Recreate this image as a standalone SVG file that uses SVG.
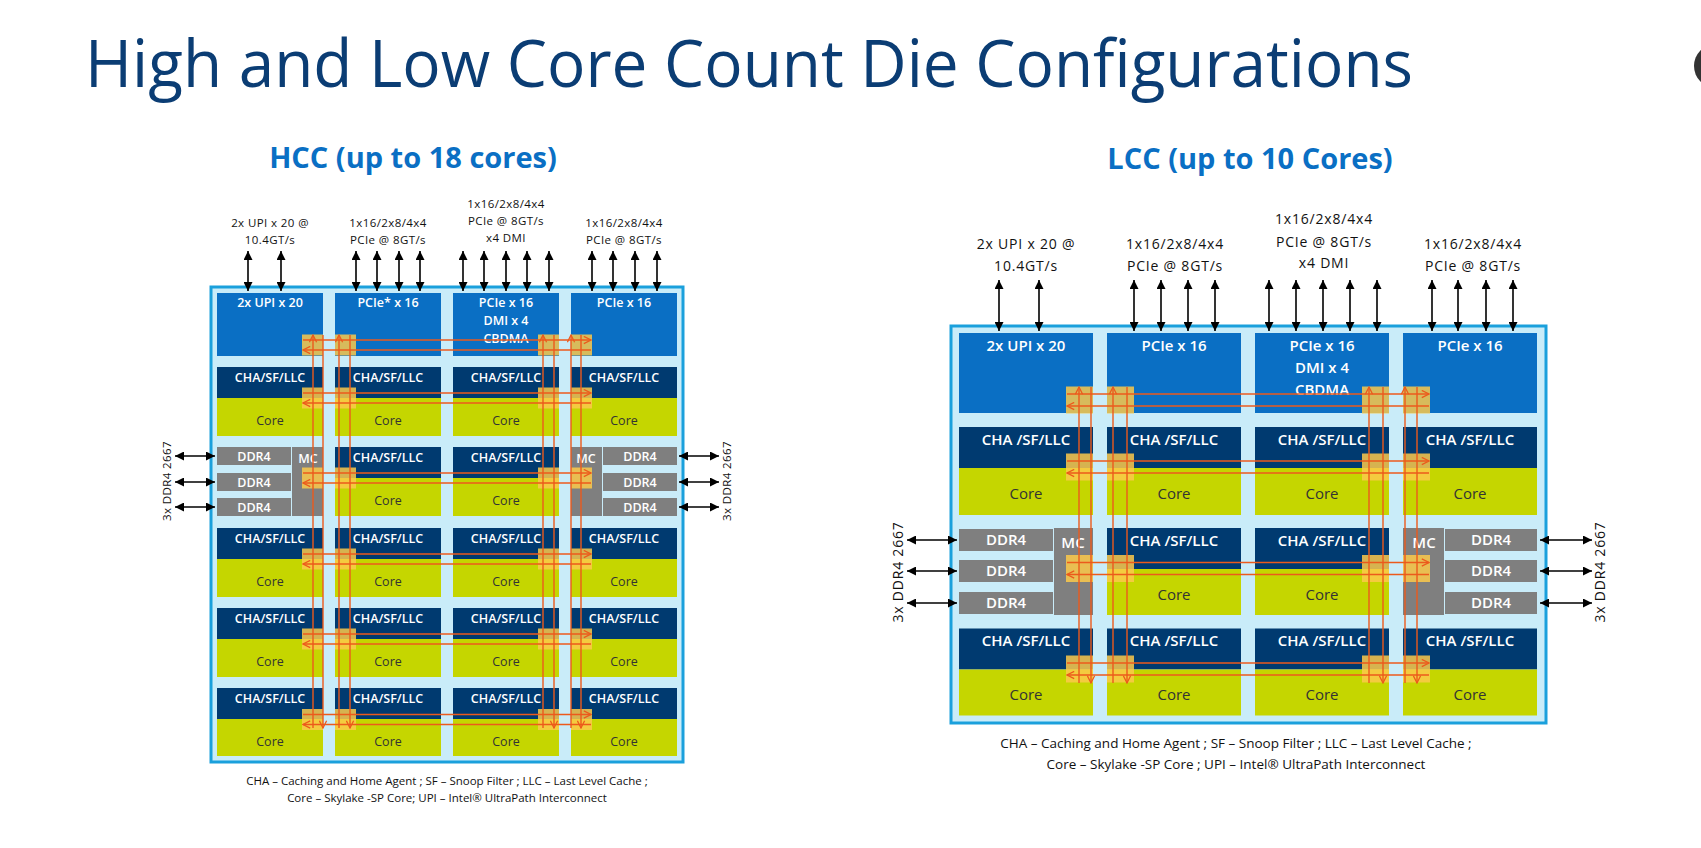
<svg xmlns="http://www.w3.org/2000/svg" width="1701" height="848" viewBox="0 0 1701 848">
<style>
text{font-family:"Open Sans","Noto Sans","Liberation Sans",sans-serif}
.bg{fill:#c9ecf9;stroke:#1aa0dc;stroke-width:3}
.io{fill:#0a6fc4}
.cha{fill:#003a70}
.core{fill:#c5d600}
.ddr{fill:#7f7f7f}
.stop{fill:#fbc94a;opacity:.85}
.ring{stroke:#ec5a1c;stroke-width:1.4;fill:none}
.io-h{stroke:#000;stroke-width:1.6;marker-start:url(#ah);marker-end:url(#ah)}
.w{fill:#fff;font-weight:600;text-anchor:middle}
.d{fill:#333;text-anchor:middle}
.s{font-size:12.5px}
.l{font-size:15px}
.lab{fill:#111;text-anchor:middle;font-size:11.5px;letter-spacing:.4px}
.labl{fill:#111;text-anchor:middle;font-size:14px;letter-spacing:.8px}
.r{marker-end:url(#oa)}
</style>
<defs>
<marker id="ah" viewBox="0 0 10 10" refX="10" refY="5" markerWidth="9" markerHeight="9" markerUnits="userSpaceOnUse" orient="auto-start-reverse"><path d="M0,0 L10,5 L0,10 z" fill="#000"/></marker>
<marker id="oa" viewBox="0 0 10 10" refX="9" refY="5" markerWidth="9" markerHeight="9" markerUnits="userSpaceOnUse" orient="auto"><path d="M1,1 L9,5 L1,9" fill="none" stroke="#ec5a1c" stroke-width="1.4"/></marker>
</defs>
<rect width="1701" height="848" fill="#fff"/>
<text x="85" y="87" font-size="65" fill="#0b3d74" textLength="1328" lengthAdjust="spacingAndGlyphs">High and Low Core Count Die Configurations</text>
<circle cx="1716" cy="66" r="22" fill="#333"/>
<text x="413" y="168" font-size="29" font-weight="700" fill="#0a6fc4" text-anchor="middle">HCC (up to 18 cores)</text>
<text x="1250" y="169" font-size="29" font-weight="700" fill="#0a6fc4" text-anchor="middle">LCC (up to 10 Cores)</text>

<!-- ================= HCC ================= -->
<g id="hcc-die"><rect class="bg" x="211" y="287" width="472" height="475"/></g>
<g id="hcc-upi"><rect class="io" x="217" y="293" width="106" height="63"/><text class="w s" x="270" y="307">2x UPI x 20</text></g>
<g id="hcc-pcie1"><rect class="io" x="335" y="293" width="106" height="63"/><text class="w s" x="388" y="307">PCIe* x 16</text></g>
<g id="hcc-pcie2"><rect class="io" x="453" y="293" width="106" height="63"/><text class="w s" x="506" y="307">PCIe x 16</text><text class="w s" x="506" y="325">DMI x 4</text><text class="w s" x="506" y="343">CBDMA</text></g>
<g id="hcc-pcie3"><rect class="io" x="571" y="293" width="106" height="63"/><text class="w s" x="624" y="307">PCIe x 16</text></g>

<g id="hcc-r1c1"><rect class="cha" x="217" y="367" width="106" height="31"/><rect class="core" x="217" y="398" width="106" height="38"/><text class="w s" x="270" y="382">CHA/SF/LLC</text><text class="d s" x="270" y="425">Core</text></g>
<g id="hcc-r1c2"><rect class="cha" x="335" y="367" width="106" height="31"/><rect class="core" x="335" y="398" width="106" height="38"/><text class="w s" x="388" y="382">CHA/SF/LLC</text><text class="d s" x="388" y="425">Core</text></g>
<g id="hcc-r1c3"><rect class="cha" x="453" y="367" width="106" height="31"/><rect class="core" x="453" y="398" width="106" height="38"/><text class="w s" x="506" y="382">CHA/SF/LLC</text><text class="d s" x="506" y="425">Core</text></g>
<g id="hcc-r1c4"><rect class="cha" x="571" y="367" width="106" height="31"/><rect class="core" x="571" y="398" width="106" height="38"/><text class="w s" x="624" y="382">CHA/SF/LLC</text><text class="d s" x="624" y="425">Core</text></g>

<g id="hcc-mc-left"><rect class="ddr" x="217" y="447" width="74" height="18"/><rect class="ddr" x="217" y="473" width="74" height="18"/><rect class="ddr" x="217" y="498" width="74" height="18"/><rect class="ddr" x="292" y="447" width="31" height="69"/><text class="w s" x="254" y="461">DDR4</text><text class="w s" x="254" y="487">DDR4</text><text class="w s" x="254" y="512">DDR4</text><text class="w s" x="308" y="463">MC</text></g>
<g id="hcc-r2c2"><rect class="cha" x="335" y="447" width="106" height="31"/><rect class="core" x="335" y="478" width="106" height="38"/><text class="w s" x="388" y="462">CHA/SF/LLC</text><text class="d s" x="388" y="505">Core</text></g>
<g id="hcc-r2c3"><rect class="cha" x="453" y="447" width="106" height="31"/><rect class="core" x="453" y="478" width="106" height="38"/><text class="w s" x="506" y="462">CHA/SF/LLC</text><text class="d s" x="506" y="505">Core</text></g>
<g id="hcc-mc-right"><rect class="ddr" x="603" y="447" width="74" height="18"/><rect class="ddr" x="603" y="473" width="74" height="18"/><rect class="ddr" x="603" y="498" width="74" height="18"/><rect class="ddr" x="571" y="447" width="31" height="69"/><text class="w s" x="640" y="461">DDR4</text><text class="w s" x="640" y="487">DDR4</text><text class="w s" x="640" y="512">DDR4</text><text class="w s" x="586" y="463">MC</text></g>

<g id="hcc-r3c1"><rect class="cha" x="217" y="528" width="106" height="31"/><rect class="core" x="217" y="559" width="106" height="38"/><text class="w s" x="270" y="543">CHA/SF/LLC</text><text class="d s" x="270" y="586">Core</text></g>
<g id="hcc-r3c2"><rect class="cha" x="335" y="528" width="106" height="31"/><rect class="core" x="335" y="559" width="106" height="38"/><text class="w s" x="388" y="543">CHA/SF/LLC</text><text class="d s" x="388" y="586">Core</text></g>
<g id="hcc-r3c3"><rect class="cha" x="453" y="528" width="106" height="31"/><rect class="core" x="453" y="559" width="106" height="38"/><text class="w s" x="506" y="543">CHA/SF/LLC</text><text class="d s" x="506" y="586">Core</text></g>
<g id="hcc-r3c4"><rect class="cha" x="571" y="528" width="106" height="31"/><rect class="core" x="571" y="559" width="106" height="38"/><text class="w s" x="624" y="543">CHA/SF/LLC</text><text class="d s" x="624" y="586">Core</text></g>

<g id="hcc-r4c1"><rect class="cha" x="217" y="608" width="106" height="31"/><rect class="core" x="217" y="639" width="106" height="38"/><text class="w s" x="270" y="623">CHA/SF/LLC</text><text class="d s" x="270" y="666">Core</text></g>
<g id="hcc-r4c2"><rect class="cha" x="335" y="608" width="106" height="31"/><rect class="core" x="335" y="639" width="106" height="38"/><text class="w s" x="388" y="623">CHA/SF/LLC</text><text class="d s" x="388" y="666">Core</text></g>
<g id="hcc-r4c3"><rect class="cha" x="453" y="608" width="106" height="31"/><rect class="core" x="453" y="639" width="106" height="38"/><text class="w s" x="506" y="623">CHA/SF/LLC</text><text class="d s" x="506" y="666">Core</text></g>
<g id="hcc-r4c4"><rect class="cha" x="571" y="608" width="106" height="31"/><rect class="core" x="571" y="639" width="106" height="38"/><text class="w s" x="624" y="623">CHA/SF/LLC</text><text class="d s" x="624" y="666">Core</text></g>

<g id="hcc-r5c1"><rect class="cha" x="217" y="688" width="106" height="31"/><rect class="core" x="217" y="719" width="106" height="37"/><text class="w s" x="270" y="703">CHA/SF/LLC</text><text class="d s" x="270" y="746">Core</text></g>
<g id="hcc-r5c2"><rect class="cha" x="335" y="688" width="106" height="31"/><rect class="core" x="335" y="719" width="106" height="37"/><text class="w s" x="388" y="703">CHA/SF/LLC</text><text class="d s" x="388" y="746">Core</text></g>
<g id="hcc-r5c3"><rect class="cha" x="453" y="688" width="106" height="31"/><rect class="core" x="453" y="719" width="106" height="37"/><text class="w s" x="506" y="703">CHA/SF/LLC</text><text class="d s" x="506" y="746">Core</text></g>
<g id="hcc-r5c4"><rect class="cha" x="571" y="688" width="106" height="31"/><rect class="core" x="571" y="719" width="106" height="37"/><text class="w s" x="624" y="703">CHA/SF/LLC</text><text class="d s" x="624" y="746">Core</text></g>

<g id="hcc-stops">
<rect class="stop" x="302" y="334.5" width="21" height="21"/><rect class="stop" x="335" y="334.5" width="21" height="21"/><rect class="stop" x="538" y="334.5" width="21" height="21"/><rect class="stop" x="571" y="334.5" width="21" height="21"/>
<rect class="stop" x="302" y="387.5" width="21" height="21"/><rect class="stop" x="335" y="387.5" width="21" height="21"/><rect class="stop" x="538" y="387.5" width="21" height="21"/><rect class="stop" x="571" y="387.5" width="21" height="21"/>
<rect class="stop" x="302" y="467.5" width="21" height="21"/><rect class="stop" x="335" y="467.5" width="21" height="21"/><rect class="stop" x="538" y="467.5" width="21" height="21"/><rect class="stop" x="571" y="467.5" width="21" height="21"/>
<rect class="stop" x="302" y="548.5" width="21" height="21"/><rect class="stop" x="335" y="548.5" width="21" height="21"/><rect class="stop" x="538" y="548.5" width="21" height="21"/><rect class="stop" x="571" y="548.5" width="21" height="21"/>
<rect class="stop" x="302" y="628.5" width="21" height="21"/><rect class="stop" x="335" y="628.5" width="21" height="21"/><rect class="stop" x="538" y="628.5" width="21" height="21"/><rect class="stop" x="571" y="628.5" width="21" height="21"/>
<rect class="stop" x="302" y="709" width="21" height="21"/><rect class="stop" x="335" y="709" width="21" height="21"/><rect class="stop" x="538" y="709" width="21" height="21"/><rect class="stop" x="571" y="709" width="21" height="21"/>
</g>

<!-- ================= LCC ================= -->
<g id="lcc-die"><rect class="bg" x="951" y="326" width="595" height="397"/></g>
<g id="lcc-upi"><rect class="io" x="959" y="333" width="134" height="80"/><text class="w l" x="1026" y="351">2x UPI x 20</text></g>
<g id="lcc-pcie1"><rect class="io" x="1107" y="333" width="134" height="80"/><text class="w l" x="1174" y="351">PCIe x 16</text></g>
<g id="lcc-pcie2"><rect class="io" x="1255" y="333" width="134" height="80"/><text class="w l" x="1322" y="351">PCIe x 16</text><text class="w l" x="1322" y="373">DMI x 4</text><text class="w l" x="1322" y="395">CBDMA</text></g>
<g id="lcc-pcie3"><rect class="io" x="1403" y="333" width="134" height="80"/><text class="w l" x="1470" y="351">PCIe x 16</text></g>

<g id="lcc-r1c1"><rect class="cha" x="959" y="427" width="134" height="41"/><rect class="core" x="959" y="468" width="134" height="47"/><text class="w l" x="1026" y="445">CHA /SF/LLC</text><text class="d l" x="1026" y="499">Core</text></g>
<g id="lcc-r1c2"><rect class="cha" x="1107" y="427" width="134" height="41"/><rect class="core" x="1107" y="468" width="134" height="47"/><text class="w l" x="1174" y="445">CHA /SF/LLC</text><text class="d l" x="1174" y="499">Core</text></g>
<g id="lcc-r1c3"><rect class="cha" x="1255" y="427" width="134" height="41"/><rect class="core" x="1255" y="468" width="134" height="47"/><text class="w l" x="1322" y="445">CHA /SF/LLC</text><text class="d l" x="1322" y="499">Core</text></g>
<g id="lcc-r1c4"><rect class="cha" x="1403" y="427" width="134" height="41"/><rect class="core" x="1403" y="468" width="134" height="47"/><text class="w l" x="1470" y="445">CHA /SF/LLC</text><text class="d l" x="1470" y="499">Core</text></g>

<g id="lcc-mc-left"><rect class="ddr" x="959" y="529" width="94" height="22"/><rect class="ddr" x="959" y="560" width="94" height="22"/><rect class="ddr" x="959" y="592" width="94" height="22"/><rect class="ddr" x="1054" y="528" width="39" height="87"/><text class="w l" x="1006" y="545">DDR4</text><text class="w l" x="1006" y="576">DDR4</text><text class="w l" x="1006" y="608">DDR4</text><text class="w l" x="1073" y="548">MC</text></g>
<g id="lcc-r2c2"><rect class="cha" x="1107" y="528" width="134" height="41"/><rect class="core" x="1107" y="569" width="134" height="46"/><text class="w l" x="1174" y="546">CHA /SF/LLC</text><text class="d l" x="1174" y="600">Core</text></g>
<g id="lcc-r2c3"><rect class="cha" x="1255" y="528" width="134" height="41"/><rect class="core" x="1255" y="569" width="134" height="46"/><text class="w l" x="1322" y="546">CHA /SF/LLC</text><text class="d l" x="1322" y="600">Core</text></g>
<g id="lcc-mc-right"><rect class="ddr" x="1445" y="529" width="92" height="22"/><rect class="ddr" x="1445" y="560" width="92" height="22"/><rect class="ddr" x="1445" y="592" width="92" height="22"/><rect class="ddr" x="1403" y="528" width="41" height="87"/><text class="w l" x="1491" y="545">DDR4</text><text class="w l" x="1491" y="576">DDR4</text><text class="w l" x="1491" y="608">DDR4</text><text class="w l" x="1424" y="548">MC</text></g>

<g id="lcc-r3c1"><rect class="cha" x="959" y="628.5" width="134" height="41"/><rect class="core" x="959" y="669.5" width="134" height="46"/><text class="w l" x="1026" y="646">CHA /SF/LLC</text><text class="d l" x="1026" y="700">Core</text></g>
<g id="lcc-r3c2"><rect class="cha" x="1107" y="628.5" width="134" height="41"/><rect class="core" x="1107" y="669.5" width="134" height="46"/><text class="w l" x="1174" y="646">CHA /SF/LLC</text><text class="d l" x="1174" y="700">Core</text></g>
<g id="lcc-r3c3"><rect class="cha" x="1255" y="628.5" width="134" height="41"/><rect class="core" x="1255" y="669.5" width="134" height="46"/><text class="w l" x="1322" y="646">CHA /SF/LLC</text><text class="d l" x="1322" y="700">Core</text></g>
<g id="lcc-r3c4"><rect class="cha" x="1403" y="628.5" width="134" height="41"/><rect class="core" x="1403" y="669.5" width="134" height="46"/><text class="w l" x="1470" y="646">CHA /SF/LLC</text><text class="d l" x="1470" y="700">Core</text></g>

<g id="lcc-stops">
<rect class="stop" x="1066" y="386.5" width="27" height="27"/><rect class="stop" x="1107" y="386.5" width="27" height="27"/><rect class="stop" x="1362" y="386.5" width="27" height="27"/><rect class="stop" x="1403" y="386.5" width="27" height="27"/>
<rect class="stop" x="1066" y="453.5" width="27" height="27"/><rect class="stop" x="1107" y="453.5" width="27" height="27"/><rect class="stop" x="1362" y="453.5" width="27" height="27"/><rect class="stop" x="1403" y="453.5" width="27" height="27"/>
<rect class="stop" x="1066" y="555" width="27" height="27"/><rect class="stop" x="1107" y="555" width="27" height="27"/><rect class="stop" x="1362" y="555" width="27" height="27"/><rect class="stop" x="1403" y="555" width="27" height="27"/>
<rect class="stop" x="1066" y="655.5" width="27" height="27"/><rect class="stop" x="1107" y="655.5" width="27" height="27"/><rect class="stop" x="1362" y="655.5" width="27" height="27"/><rect class="stop" x="1403" y="655.5" width="27" height="27"/>
</g>

<!-- labels -->
<g id="hcc-labels">
<text class="lab" x="270" y="227">2x UPI x 20 @</text><text class="lab" x="270" y="244">10.4GT/s</text>
<text class="lab" x="388" y="227">1x16/2x8/4x4</text><text class="lab" x="388" y="244">PCIe @ 8GT/s</text>
<text class="lab" x="506" y="208">1x16/2x8/4x4</text><text class="lab" x="506" y="225">PCIe @ 8GT/s</text><text class="lab" x="506" y="242">x4 DMI</text>
<text class="lab" x="624" y="227">1x16/2x8/4x4</text><text class="lab" x="624" y="244">PCIe @ 8GT/s</text>
<text class="lab" transform="translate(171 481) rotate(-90)">3x DDR4 2667</text>
<text class="lab" transform="translate(731 481) rotate(-90)">3x DDR4 2667</text>
<text fill="#111" font-size="11.5" text-anchor="middle" x="447" y="785">CHA – Caching and Home Agent   ; SF – Snoop Filter ; LLC – Last Level Cache ;</text>
<text fill="#111" font-size="11.5" text-anchor="middle" x="447" y="802">Core – Skylake -SP Core; UPI – Intel® UltraPath Interconnect</text>
</g>
<g id="lcc-labels">
<text class="labl" x="1026" y="249">2x UPI x 20 @</text><text class="labl" x="1026" y="271">10.4GT/s</text>
<text class="labl" x="1175" y="249">1x16/2x8/4x4</text><text class="labl" x="1175" y="271">PCIe @ 8GT/s</text>
<text class="labl" x="1324" y="224">1x16/2x8/4x4</text><text class="labl" x="1324" y="247">PCIe @ 8GT/s</text><text class="labl" x="1324" y="268">x4 DMI</text>
<text class="labl" x="1473" y="249">1x16/2x8/4x4</text><text class="labl" x="1473" y="271">PCIe @ 8GT/s</text>
<text class="labl" transform="translate(903 572) rotate(-90)">3x DDR4 2667</text>
<text class="labl" transform="translate(1605 572) rotate(-90)">3x DDR4 2667</text>
<text fill="#111" font-size="13.5" text-anchor="middle" x="1236" y="748">CHA  –  Caching and Home Agent      ; SF –  Snoop Filter  ; LLC –  Last Level Cache  ;</text>
<text fill="#111" font-size="13.5" text-anchor="middle" x="1236" y="769">Core  –  Skylake -SP Core ; UPI  –  Intel® UltraPath Interconnect</text>
</g>

<g id="connectors">
<!-- HCC IO arrows -->
<g class="io-h">
<line x1="248" y1="251" x2="248" y2="291"/><line x1="281" y1="251" x2="281" y2="291"/>
<line x1="356" y1="251" x2="356" y2="291"/><line x1="377" y1="251" x2="377" y2="291"/><line x1="399" y1="251" x2="399" y2="291"/><line x1="420" y1="251" x2="420" y2="291"/>
<line x1="463" y1="251" x2="463" y2="291"/><line x1="484" y1="251" x2="484" y2="291"/><line x1="506" y1="251" x2="506" y2="291"/><line x1="527" y1="251" x2="527" y2="291"/><line x1="549" y1="251" x2="549" y2="291"/>
<line x1="592" y1="251" x2="592" y2="291"/><line x1="613" y1="251" x2="613" y2="291"/><line x1="635" y1="251" x2="635" y2="291"/><line x1="657" y1="251" x2="657" y2="291"/>
<line x1="175" y1="456" x2="215" y2="456"/><line x1="175" y1="482" x2="215" y2="482"/><line x1="175" y1="507" x2="215" y2="507"/>
<line x1="679" y1="456" x2="719" y2="456"/><line x1="679" y1="482" x2="719" y2="482"/><line x1="679" y1="507" x2="719" y2="507"/>
<!-- LCC IO arrows -->
<line x1="999" y1="280" x2="999" y2="331"/><line x1="1039" y1="280" x2="1039" y2="331"/>
<line x1="1134" y1="280" x2="1134" y2="331"/><line x1="1161" y1="280" x2="1161" y2="331"/><line x1="1188" y1="280" x2="1188" y2="331"/><line x1="1215" y1="280" x2="1215" y2="331"/>
<line x1="1269" y1="280" x2="1269" y2="331"/><line x1="1296" y1="280" x2="1296" y2="331"/><line x1="1323" y1="280" x2="1323" y2="331"/><line x1="1350" y1="280" x2="1350" y2="331"/><line x1="1377" y1="280" x2="1377" y2="331"/>
<line x1="1432" y1="280" x2="1432" y2="331"/><line x1="1458" y1="280" x2="1458" y2="331"/><line x1="1486" y1="280" x2="1486" y2="331"/><line x1="1513" y1="280" x2="1513" y2="331"/>
<line x1="907" y1="540" x2="957" y2="540"/><line x1="907" y1="571" x2="957" y2="571"/><line x1="907" y1="603" x2="957" y2="603"/>
<line x1="1540" y1="540" x2="1592" y2="540"/><line x1="1540" y1="571" x2="1592" y2="571"/><line x1="1540" y1="603" x2="1592" y2="603"/>
</g>
<!-- HCC mesh -->
<g class="ring r">
<line x1="303" y1="340" x2="591" y2="340"/><line x1="591" y1="350" x2="303" y2="350"/>
<line x1="303" y1="393" x2="591" y2="393"/><line x1="591" y1="403" x2="303" y2="403"/>
<line x1="303" y1="473" x2="591" y2="473"/><line x1="591" y1="483" x2="303" y2="483"/>
<line x1="303" y1="554" x2="591" y2="554"/><line x1="591" y1="564" x2="303" y2="564"/>
<line x1="303" y1="634" x2="591" y2="634"/><line x1="591" y1="644" x2="303" y2="644"/>
<line x1="303" y1="714.5" x2="591" y2="714.5"/><line x1="591" y1="724.5" x2="303" y2="724.5"/>
<line x1="313" y1="728" x2="313" y2="335"/><line x1="323" y1="335" x2="323" y2="728"/>
<line x1="339" y1="728" x2="339" y2="335"/><line x1="350" y1="335" x2="350" y2="728"/>
<line x1="543" y1="728" x2="543" y2="335"/><line x1="554" y1="335" x2="554" y2="728"/>
<line x1="571" y1="728" x2="571" y2="335"/><line x1="581" y1="335" x2="581" y2="728"/>
</g>
<!-- LCC mesh -->
<g class="ring r">
<line x1="1067" y1="394" x2="1429" y2="394"/><line x1="1429" y1="406" x2="1067" y2="406"/>
<line x1="1067" y1="461" x2="1429" y2="461"/><line x1="1429" y1="473" x2="1067" y2="473"/>
<line x1="1067" y1="562.5" x2="1429" y2="562.5"/><line x1="1429" y1="574.5" x2="1067" y2="574.5"/>
<line x1="1067" y1="663" x2="1429" y2="663"/><line x1="1429" y1="675" x2="1067" y2="675"/>
<line x1="1079" y1="683" x2="1079" y2="387"/><line x1="1091" y1="387" x2="1091" y2="683"/>
<line x1="1113" y1="683" x2="1113" y2="387"/><line x1="1127" y1="387" x2="1127" y2="683"/>
<line x1="1369" y1="683" x2="1369" y2="387"/><line x1="1383" y1="387" x2="1383" y2="683"/>
<line x1="1405" y1="683" x2="1405" y2="387"/><line x1="1417" y1="387" x2="1417" y2="683"/>
</g>
</g>
</svg>
